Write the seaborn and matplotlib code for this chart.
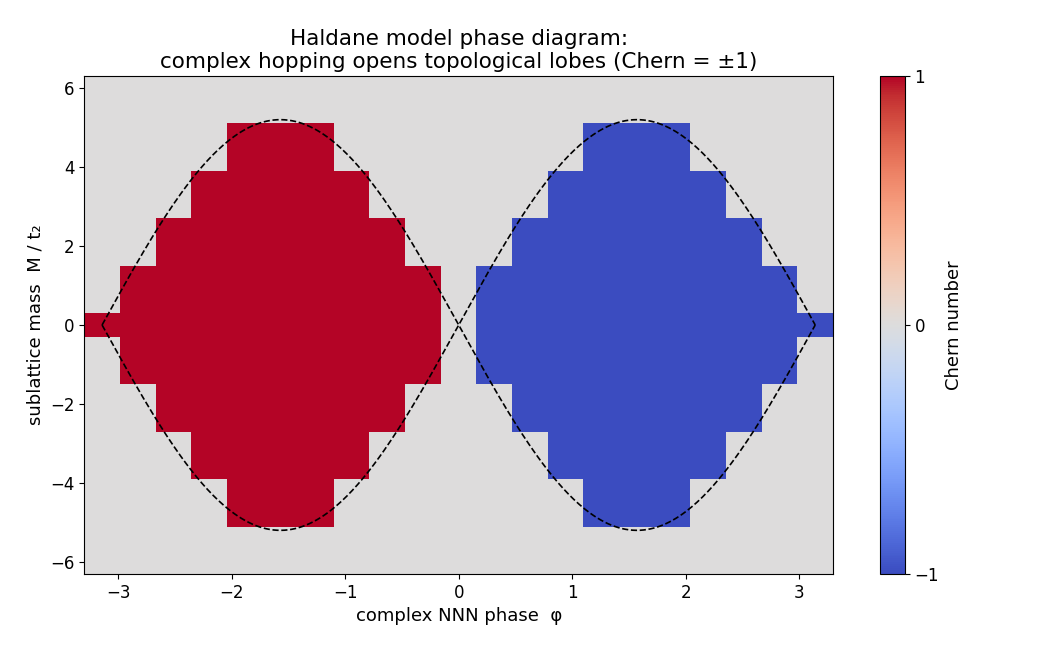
import numpy as np
import pandas as pd
import matplotlib
matplotlib.use('Agg')
import matplotlib.pyplot as plt
import seaborn as sns

# Grid: 21 phase columns, 21 mass rows
phi_values = np.linspace(-np.pi, np.pi, 21)
mass_values = np.linspace(-6, 6, 21)

# How many rows above/below M = 0 are filled in each phase column (-1 = empty column)
lobe_half_rows = [0, 2, 4, 6, 8, 8, 8, 6, 4, 2, -1, 2, 4, 6, 8, 8, 8, 6, 4, 2, 0]
# Chern number of the filled cells in each column
lobe_sign = [1] * 10 + [0] + [-1] * 10

# Phase boundary |M| = 3*sqrt(3) |sin phi| (peak read as ~5.2)
boundary_peak = 3 * np.sqrt(3)

center = len(mass_values) // 2
chern = np.zeros((len(mass_values), len(phi_values)))
for j, (h, s) in enumerate(zip(lobe_half_rows, lobe_sign)):
    if h >= 0:
        chern[center - h:center + h + 1, j] = s

sns.set_style('ticks')
plt.rcParams['font.family'] = ['DejaVu Sans']
plt.rcParams.update({'text.color': 'black', 'axes.labelcolor': 'black',
                     'xtick.color': 'black', 'ytick.color': 'black',
                     'axes.edgecolor': 'black'})

fig = plt.figure(figsize=(10.4, 6.5), dpi=100)
ax = fig.add_axes([0.081, 0.117, 0.72, 0.766])
cax = fig.add_axes([0.846, 0.117, 0.024, 0.766])

mesh = ax.pcolormesh(phi_values, mass_values, chern, cmap='coolwarm',
                     vmin=-1, vmax=1, shading='nearest')

phi_line = np.linspace(-np.pi, np.pi, 400)
curve = pd.DataFrame({'phi': phi_line, 'upper': boundary_peak * np.sin(phi_line),
                      'lower': -boundary_peak * np.sin(phi_line)})
sns.lineplot(data=curve, x='phi', y='upper', ax=ax, color='black',
             linestyle='--', linewidth=1.2)
sns.lineplot(data=curve, x='phi', y='lower', ax=ax, color='black',
             linestyle='--', linewidth=1.2)

ax.set_xlim(-np.pi - np.pi / 20, np.pi + np.pi / 20)
ax.set_ylim(-6.3, 6.3)
ax.set_xticks([-3, -2, -1, 0, 1, 2, 3])
ax.set_yticks([-6, -4, -2, 0, 2, 4, 6])
ax.tick_params(labelsize=12, colors='black')
ax.set_xlabel('complex NNN phase  φ', fontsize=13)
ax.set_ylabel('sublattice mass  M / t₂', fontsize=13)
ax.set_title('Haldane model phase diagram:\n'
             'complex hopping opens topological lobes (Chern = ±1)', fontsize=15.5)
for sp in ax.spines.values():
    sp.set_visible(True)
    sp.set_color('black')

cb = fig.colorbar(mesh, cax=cax, ticks=[-1, 0, 1])
cb.set_label('Chern number', fontsize=13)
cb.ax.tick_params(labelsize=12, colors='black')

fig.savefig('out.png', dpi=100)
